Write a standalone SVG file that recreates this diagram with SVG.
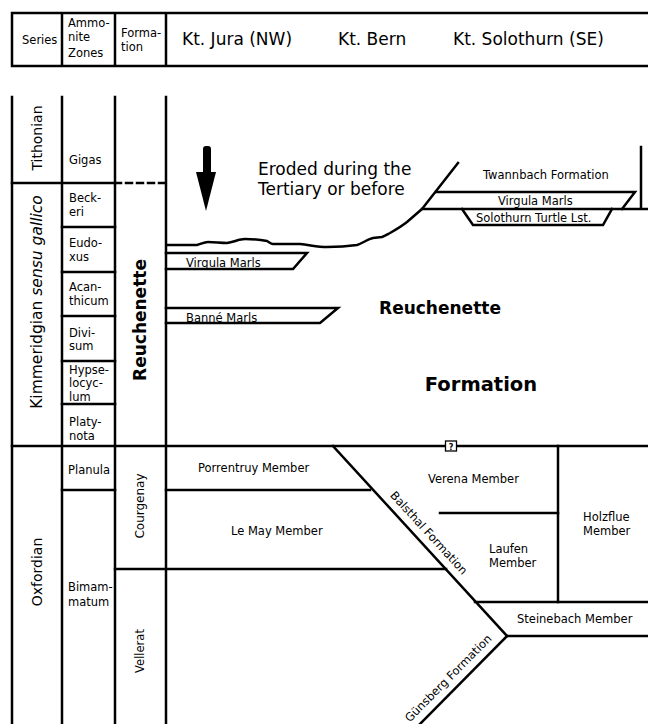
<svg xmlns="http://www.w3.org/2000/svg" width="648" height="724" viewBox="0 0 648 724">
<style>
  text { font-family: "DejaVu Sans", Verdana, sans-serif; fill: #000; }
  .s { font-size: 11.5px; }
  .m { font-size: 12px; }
  .ser { font-size: 14px; }
  .big { font-size: 17px; }
  .bold { font-weight: bold; font-size: 17px; }
  .ln { stroke: #000; stroke-width: 2.5; fill: none; stroke-linecap: square; }
</style>
<rect x="0" y="0" width="648" height="724" fill="#fff"/>

<g id="header">
  <path class="ln" d="M12 13 H648 M12 66 H648 M12 13 V66 M62 13 V66 M115 13 V66 M166 13 V66"/>
  <text class="s" x="22" y="44">Series</text>
  <text class="s" x="68" y="27">Ammo-</text>
  <text class="s" x="68" y="41">nite</text>
  <text class="s" x="68" y="57">Zones</text>
  <text class="s" x="121" y="37">Forma-</text>
  <text class="s" x="121" y="51">tion</text>
  <text class="big" x="182" y="45">Kt. Jura (NW)</text>
  <text class="big" x="338" y="45">Kt. Bern</text>
  <text class="big" x="453" y="45">Kt. Solothurn (SE)</text>
</g>

<g id="connectors">
  <path class="ln" d="M12 97 V724 M62 97 V724 M115 97 V724 M166 97 V724"/>
  <path class="ln" d="M12 183 H115"/>
  <path class="ln" d="M115 183 H166" stroke-dasharray="6 5" stroke-linecap="butt"/>
  <path class="ln" d="M62 227 H115 M62 272 H115 M62 316 H115 M62 361 H115 M62 404 H115"/>
  <path class="ln" d="M12 446 H648"/>
  <path class="ln" d="M62 490 H115"/>
  <path class="ln" d="M166 490 H370 M115 569 H446"/>
  <path class="ln" d="M333 446 L507 636"/>
  <path class="ln" d="M507 636 L420 724"/>
  <path class="ln" d="M475 602 H648 M507 636 H648"/>
  <path class="ln" d="M558 446 V602"/>
  <path class="ln" d="M440 513 H558"/>
</g>

<g id="top-right">
  <path class="ln" d="M641 147 V209 M422 209 H648"/>
  <path class="ln" d="M436 192 H635 L622 209"/>
  <path class="ln" d="M462 209 L473 225 H603 L612 209"/>
  <path class="ln" stroke-linecap="round" stroke-linejoin="round" d="M167 245 L197 245 C201 244 204 242 208 242 C215 242 220 243 227 243 C234 242 239 239 245 239 C254 239 262 240 267 241 C269 242 271 244 273 244 L300 244 C310 245 318 247 327 247 C340 247 350 246 357 245 C363 243 368 239 373 238 L382 237 C385 236 388 234 390 233 C397 229 402 226 407 222 L422 209 L458 163"/>
  <text class="s" x="483" y="179">Twannbach Formation</text>
  <text class="s" x="498" y="205">Virgula Marls</text>
  <text class="s" x="476" y="222">Solothurn Turtle Lst.</text>
</g>

<g id="arrow">
  <rect x="203" y="146" width="8" height="30" rx="3" fill="#000"/>
  <path d="M196 172 L216 172 L206 211 Z" fill="#000"/>
  <text class="big" x="258" y="175">Eroded during the</text>
  <text class="big" x="258" y="195">Tertiary or before</text>
</g>

<g id="virgula-left">
  <path class="ln" d="M166 253 H307 L293 269 H166"/>
  <text class="s" x="186" y="267">Virgula Marls</text>
</g>
<g id="banne">
  <path class="ln" d="M166 308 H338 L320 323 H166"/>
  <text class="s" x="186" y="322">Banné Marls</text>
</g>

<g id="reuchenette">
  <text class="bold" x="440" y="314" text-anchor="middle">Reuchenette</text>
  <text class="bold" x="481" y="391" text-anchor="middle" style="font-size:19.5px">Formation</text>
</g>

<g id="series">
  <text class="ser" transform="translate(42 138) rotate(-90)" text-anchor="middle">Tithonian</text>
  <text class="ser" transform="translate(42 302) rotate(-90)" text-anchor="middle" style="font-size:15.5px">Kimmeridgian <tspan font-style="italic">sensu gallico</tspan></text>
  <text class="ser" transform="translate(42 572) rotate(-90)" text-anchor="middle">Oxfordian</text>
</g>

<g id="zones">
  <text class="s" x="69" y="164">Gigas</text>
  <text class="s" x="69" y="202">Beck-</text>
  <text class="s" x="69" y="216">eri</text>
  <text class="s" x="69" y="247">Eudo-</text>
  <text class="s" x="69" y="261">xus</text>
  <text class="s" x="69" y="291">Acan-</text>
  <text class="s" x="69" y="305">thicum</text>
  <text class="s" x="69" y="337">Divi-</text>
  <text class="s" x="69" y="350">sum</text>
  <text class="s" x="69" y="374">Hypse-</text>
  <text class="s" x="69" y="387">locyc-</text>
  <text class="s" x="69" y="401">lum</text>
  <text class="s" x="69" y="426">Platy-</text>
  <text class="s" x="69" y="440">nota</text>
  <text class="s" x="68" y="474">Planula</text>
  <text class="s" x="68" y="591">Bimam-</text>
  <text class="s" x="68" y="606">matum</text>
</g>

<g id="formations">
  <text class="bold" transform="translate(146 320) rotate(-90)" text-anchor="middle">Reuchenette</text>
  <text class="m" transform="translate(144 506) rotate(-90)" text-anchor="middle">Courgenay</text>
  <text class="s" transform="translate(144 651) rotate(-90)" text-anchor="middle">Vellerat</text>
</g>

<g id="members">
  <text class="s" x="198" y="472">Porrentruy Member</text>
  <text class="s" x="231" y="535">Le May Member</text>
  <text class="s" x="428" y="483">Verena Member</text>
  <text class="s" x="583" y="521">Holzflue</text>
  <text class="s" x="583" y="535">Member</text>
  <text class="s" x="489" y="553">Laufen</text>
  <text class="s" x="489" y="567">Member</text>
  <text class="s" x="517" y="623">Steinebach Member</text>
  <text class="s" transform="translate(426 535.6) rotate(47.5)" text-anchor="middle">Balsthal Formation</text>
  <text class="s" transform="translate(451 681) rotate(-45.3)" text-anchor="middle">Günsberg Formation</text>
</g>

<g id="qmark">
  <rect x="445.5" y="441" width="11" height="10" fill="#fff" stroke="#000" stroke-width="1.3"/>
  <text x="451" y="449.5" text-anchor="middle" font-size="8" font-weight="bold">?</text>
</g>
</svg>
